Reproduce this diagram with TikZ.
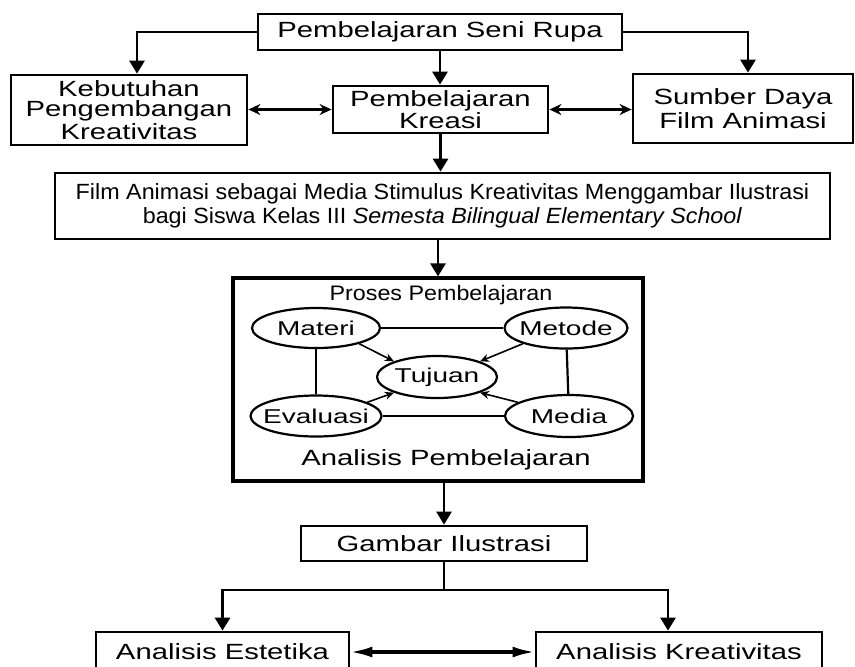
\documentclass[tikz,border=0pt]{standalone}
\usepackage{fontspec}
\setmainfont{Liberation Sans}
\newfontfamily\boxfont[FakeStretch=1.33]{Liberation Sans}
\newfontfamily\filmfont[FakeStretch=1.06]{Liberation Sans}
\newfontfamily\ovalfont[FakeStretch=1.4]{Liberation Sans}
\newfontfamily\prosfont[FakeStretch=1.11]{Liberation Sans}
\usetikzlibrary{positioning,arrows.meta,shapes.geometric}

\begin{document}
\begin{tikzpicture}[x=0.5pt,y=-0.5pt,
    box/.style={draw,line width=1.4pt,align=center,inner sep=1pt,
      font=\boxfont\fontsize{11}{10}\selectfont},
    oval/.style={draw,ellipse,line width=1.1pt,inner sep=0pt,
      font=\ovalfont\fontsize{10}{10}\selectfont},
    arr/.style={-{Triangle[length=6.5pt,width=7.5pt]},line width=1.4pt},
    dbl/.style={{Stealth[length=6pt,width=5.5pt]}-{Stealth[length=6pt,width=5.5pt]},line width=1.4pt},
    dbllong/.style={{Latex[length=11pt,width=5.5pt]}-{Latex[length=11pt,width=5.5pt]},line width=1.6pt},
    inarr/.style={-{Stealth[length=4.5pt,width=4pt]},line width=0.8pt}]
    \useasboundingbox (0,0) rectangle (855,666);

    \node[box,minimum width=182pt,minimum height=18pt] (seni) at (440,32) {Pembelajaran Seni Rupa};
    \node[box,minimum width=118pt,minimum height=35pt] (kebut) at (129,110) {Kebutuhan\\Pengembangan\\Kreativitas};
    \node[box,minimum width=107.5pt,minimum height=23.5pt] (kreasi) at (440.5,109.5) {Pembelajaran\\Kreasi};
    \node[box,minimum width=110pt,minimum height=34.5pt,
      font=\boxfont\fontsize{11}{12}\selectfont] (sumber) at (743,108.5) {Sumber Daya\\Film Animasi};
    \node[box,minimum width=387.5pt,minimum height=33pt,
      font=\filmfont\fontsize{11}{12}\selectfont] (film) at (442.5,206)
      {Film Animasi sebagai Media Stimulus Kreativitas Menggambar Ilustrasi\\
       bagi Siswa Kelas III \textit{Semesta Bilingual Elementary School}};

    \node[box,line width=1.6pt,minimum width=205pt,minimum height=101.5pt] (proses) at (438,379.5) {};
    \node[font=\prosfont\fontsize{10.5}{12}\selectfont] (judul) at (441,295) {Proses Pembelajaran};
    \node[font=\boxfont\fontsize{11}{12}\selectfont] (analisis) at (446,460) {Analisis Pembelajaran};

    \node[oval,minimum width=64pt,minimum height=20pt] (materi) at (316,328) {\makebox[0pt]{Materi}};
    \node[oval,minimum width=61.5pt,minimum height=20.5pt] (metode) at (566,328) {\makebox[0pt]{Metode}};
    \node[oval,minimum width=60pt,minimum height=21pt] (tujuan) at (437,377) {\makebox[0pt]{Tujuan}};
    \node[oval,minimum width=65.5pt,minimum height=20.5pt] (evaluasi) at (316,416) {\makebox[0pt]{Evaluasi}};
    \node[oval,minimum width=64pt,minimum height=21pt] (media) at (569,416) {\makebox[0pt]{Media}};

    \node[box,minimum width=143pt,minimum height=17.5pt] (gambar) at (444,543.5) {Gambar Ilustrasi};
    \node[box,minimum width=126.5pt,minimum height=20pt] (estetika) at (222.5,652) {Analisis Estetika};
    \node[box,minimum width=143pt,minimum height=20pt] (kreativ) at (679,652) {Analisis Kreativitas};

    \draw[arr] (seni.west) -| ([xshift=4pt]kebut.north);
    \draw[arr] (seni.east) -| ([xshift=2.5pt]sumber.north);
    \draw[arr] (seni.south) -- (seni.south |- kreasi.north);
    \draw[dbl] (kebut.east |- kreasi.west) -- (kreasi.west);
    \draw[dbl] (kreasi.east) -- (kreasi.east -| sumber.west);
    \draw[arr] (kreasi.south) -- (kreasi.south |- film.north);
    \draw[arr] (film.south -| proses.north) -- (proses.north);

    \draw[line width=1.1pt] (materi) -- (metode);
    \draw[line width=1.1pt] (evaluasi) -- (media);
    \draw[line width=1.1pt] (materi) -- (evaluasi);
    \draw[line width=1.1pt] (metode) -- (media);
    \draw[inarr] (materi.-20) -- (tujuan.160);
    \draw[inarr] (metode.200) -- (tujuan.20);
    \draw[inarr] (evaluasi.15) -- (tujuan.200);
    \draw[inarr] (media.165) -- (tujuan.-20);

    \draw[arr] (proses.south -| gambar.north) -- (gambar.north);
    \coordinate (cabang) at (444,590);
    \draw[line width=1.4pt] (gambar.south) -- (cabang);
    \draw[arr] (cabang) -| (estetika.north);
    \draw[arr] (cabang) -| ([xshift=-5.5pt]kreativ.north);
    \draw[dbllong] (estetika.east) -- (estetika.east -| kreativ.west);
\end{tikzpicture}
\end{document}
